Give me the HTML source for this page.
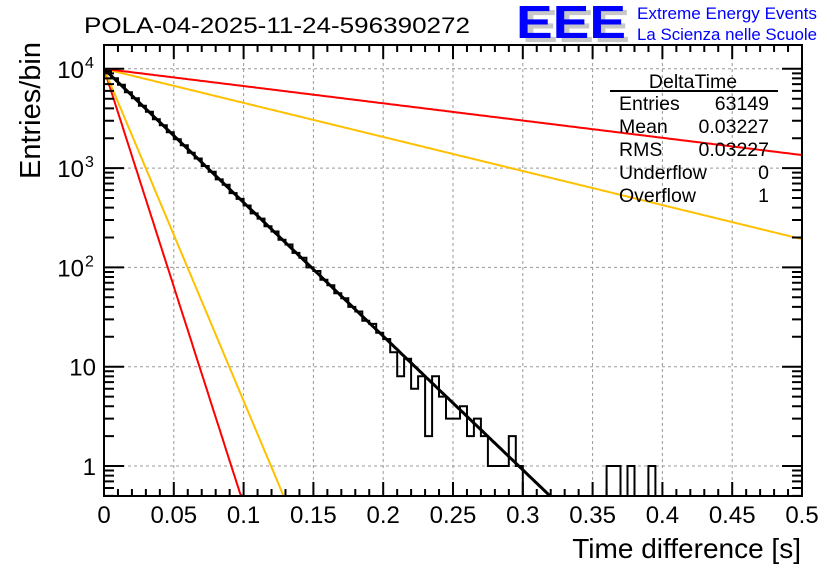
<!DOCTYPE html>
<html><head><meta charset="utf-8"><style>
body{margin:0;background:#fff;}
svg{display:block;font-family:"Liberation Sans",Arial,sans-serif;}
</style></head><body>
<svg id="c" width="836" height="572" viewBox="0 0 836 572" xmlns="http://www.w3.org/2000/svg">
<text x="84" y="33" font-size="22" textLength="386" lengthAdjust="spacingAndGlyphs">POLA-04-2025-11-24-596390272</text>
<g>
<text x="522" y="42" font-size="46" fill="#c8c8c8" font-weight="bold" textLength="108" lengthAdjust="spacingAndGlyphs">EEE</text>
<text x="516" y="38" font-size="46" fill="#0000ff" font-weight="bold" textLength="110" lengthAdjust="spacingAndGlyphs">EEE</text>
<text x="637" y="19" font-size="17" fill="#0000ff" textLength="180" lengthAdjust="spacingAndGlyphs">Extreme Energy Events</text>
<text x="637" y="40" font-size="17" fill="#0000ff" textLength="180" lengthAdjust="spacingAndGlyphs">La Scienza nelle Scuole</text>
</g>
<g id="grid"></g>
<g id="curves"></g>
<g id="hist"></g>
<g id="axes"></g>
<g font-size="19.5">
<text x="693" y="88" text-anchor="middle">DeltaTime</text>
<line x1="610" y1="91" x2="778" y2="91" stroke="#000" stroke-width="2"/>
<text x="619" y="110">Entries</text><text x="769" y="110" text-anchor="end">63149</text>
<text x="619" y="133">Mean</text><text x="769" y="133" text-anchor="end">0.03227</text>
<text x="619" y="156">RMS</text><text x="769" y="156" text-anchor="end">0.03227</text>
<text x="619" y="179">Underflow</text><text x="769" y="179" text-anchor="end">0</text>
<text x="619" y="202">Overflow</text><text x="769" y="202" text-anchor="end">1</text>
</g>
<text x="801" y="558" font-size="28" text-anchor="end">Time difference [s]</text>
<text transform="translate(40,42) rotate(-90)" font-size="29" text-anchor="end">Entries/bin</text>
</svg>
<script>
const counts=[9500,8050,6900,5800,5050,4250,3700,3100,2700,2300,1950,1700,1430,1250,1050,920,770,680,560,490,420,350,310,260,230,190,170,140,125,100,92,75,66,55,49,40,36,29,27,22,19,14,8,12,6,8,2,8,5,3,3,4,2,3,2,1,1,1,2,1,0,0,0,0,0,0,0,0,0,0,0,0,1,1,0,1,0,0,1,0,0,0,0,0,0,0,0,0,0,0,0,0,0,0,0,0,0,0,0,0];
const binWidth=0.005;
const xTicks=[0,0.05,0.1,0.15,0.2,0.25,0.3,0.35,0.4,0.45,0.5];
const xTickLabels=["0","0.05","0.1","0.15","0.2","0.25","0.3","0.35","0.4","0.45","0.5"];
const yDecades=[1,10,100,1000,10000];
const yDecadeBase=["1","10","10","10","10"];
const yDecadeExp=["","","2","3","4"];
const fitAmp=[10000];
const fitRate=[31];
const curveAmps=[10000,10000,10000,10000];
const curveRates=[101,77,7.9,4.0];
const curveColors=["#ff0000","#ffc000","#ffc000","#ff0000"];

const X0=104,X1=802,YT=45,YB=496;
const xs=v=>X0+(v/0.5)*(X1-X0);
const ys=v=>Math.min(YB,466-99.3*Math.log10(v));
const NS="http://www.w3.org/2000/svg";
function mk(parent,tag,attrs){const e=document.createElementNS(NS,tag);for(const k in attrs)e.setAttribute(k,attrs[k]);(typeof parent==='string'?document.getElementById(parent):parent).appendChild(e);return e;}

xTicks.forEach(t=>{if(t>0&&t<0.5){const l=mk('grid','line',{x1:xs(t),x2:xs(t),y1:YT,y2:YB,stroke:'#999','stroke-dasharray':'3,3'});

}});
yDecades.forEach(d=>{const l=mk('grid','line',{x1:X0,x2:X1,y1:ys(d),y2:ys(d),stroke:'#999','stroke-dasharray':'3,3'});

});

function curvePath(A,r){let d='';for(let i=0;i<=400;i++){const t=i/400*0.5;const v=A*Math.exp(-r*t);const y=ys(v);d+=(i?'L':'M')+xs(t).toFixed(1)+','+y.toFixed(1);if(y>=YB)break;}return d;}
curveRates.forEach((r,i)=>{const p=mk('curves','path',{d:curvePath(curveAmps[i],r),fill:'none',stroke:curveColors[i],'stroke-width':2});

});

let hd='';counts.forEach((c,i)=>{const y=c>0?ys(c):YB;const xa=xs(i*binWidth),xb=xs((i+1)*binWidth);hd+=(i?'L':'M')+xa.toFixed(1)+','+y.toFixed(1)+'L'+xb.toFixed(1)+','+y.toFixed(1);});
const hp=mk('hist','path',{d:hd,fill:'none',stroke:'#000','stroke-width':2});


const fp=mk('hist','path',{d:curvePath(fitAmp[0],fitRate[0]),fill:'none',stroke:'#000','stroke-width':3});



const fr=mk('axes','rect',{x:X0,y:YT,width:X1-X0,height:YB-YT,fill:'none',stroke:'#000','stroke-width':2});


let td='';
for(let i=0;i<=50;i++){const x=xs(i*0.01);const L=(i%5==0)?14:7;td+=`M${x},${YB}v${-L}M${x},${YT}v${L}`;}
yDecades.forEach(d=>{for(let m=1;m<=9;m++){const y=466-99.3*Math.log10(d*m);if(y<YT||y>YB)continue;const L=m==1?20:10;td+=`M${X0},${y}h${L}M${X1},${y}h${-L}`;}});
[0.5,0.6,0.7,0.8,0.9].forEach(v=>{const y=466-99.3*Math.log10(v);if(y<=YB){td+=`M${X0},${y}h10M${X1},${y}h-10`;}});
const tk=mk('axes','path',{d:td,stroke:'#000','stroke-width':2,fill:'none'});


xTicks.forEach((t,i)=>{const e=mk('axes','text',{x:xs(t),y:523,'font-size':24,'text-anchor':'middle'});e.textContent=xTickLabels[i];

});
yDecades.forEach((d,i)=>{const hasExp=yDecadeExp[i]!=='';const e=mk('axes','text',{x:hasExp?84:96,y:ys(d)+9,'font-size':24,'text-anchor':'end'});e.textContent=yDecadeBase[i];


if(hasExp){const s=mk('axes','text',{x:85,y:ys(d)-1,'font-size':16,'text-anchor':'start'});s.textContent=yDecadeExp[i];

}});
</script>
</body></html>
